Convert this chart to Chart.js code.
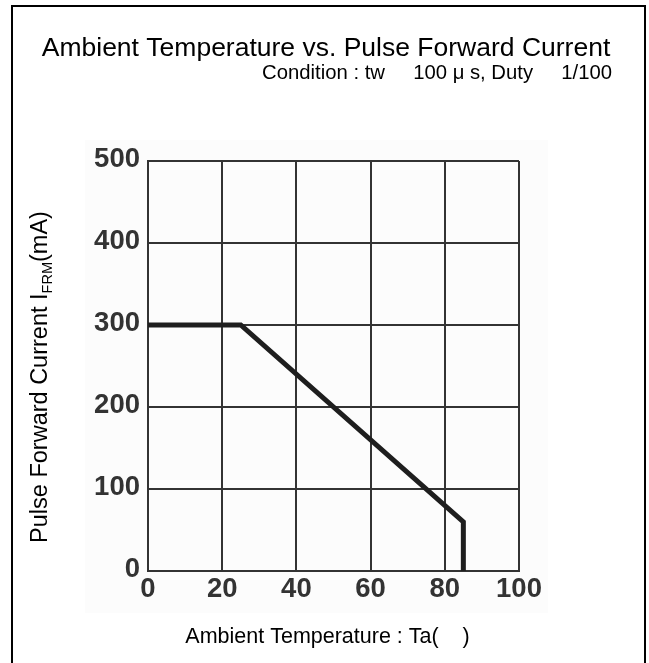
<!DOCTYPE html>
<html><head><meta charset="utf-8">
<script src="https://cdn.jsdelivr.net/npm/chart.js@4"></script>
<style>html,body{margin:0;padding:0;background:#fff}#wrap{width:649px;height:663px;position:relative}</style>
</head><body><div id="wrap"><canvas id="c" width="649" height="663"></canvas></div>
<script>
// ---- data ----
const temperatures = [0, 25, 85, 85];
const pulseCurrent = [300, 300, 60, 0];
const xTickValues = [0, 20, 40, 60, 80, 100];
const yTickValues = [0, 100, 200, 300, 400, 500];
const titleText = 'Ambient Temperature vs. Pulse Forward Current';
const subtitleText = 'Condition : tw     100 \u03bc s, Duty     1/100';
const xTitleText = 'Ambient Temperature : Ta(    )  ';
const yTitleMain = 'Pulse Forward Current I';
const yTitleSub = 'FRM';
const yTitleEnd = '(mA)';

const FONT = '"Liberation Sans", Arial, sans-serif';

const decor = {
  id: 'decor',
  beforeDraw(chart) {
    const ctx = chart.ctx;
    ctx.save();
    ctx.fillStyle = '#ffffff';
    ctx.fillRect(0, 0, chart.width, chart.height);
    ctx.fillStyle = '#fcfcfc';
    ctx.fillRect(85, 140, 463, 473);
    ctx.strokeStyle = '#000';
    ctx.lineWidth = 2;
    ctx.strokeRect(12, 6, 633, 700);
    ctx.restore();
  },
  afterDraw(chart) {
    const ctx = chart.ctx;
    ctx.save();
    ctx.fillStyle = '#000';
    ctx.textBaseline = 'alphabetic';
    ctx.font = '26.5px ' + FONT;
    ctx.textAlign = 'center';
    ctx.fillText(titleText, 326, 56);
    ctx.font = '20.3px ' + FONT;
    ctx.textAlign = 'right';
    ctx.fillText(subtitleText, 612, 79);
    // y axis title with subscript
    const mainFont = '23.5px ' + FONT, subFont = '14.5px ' + FONT;
    ctx.font = mainFont; const w1 = ctx.measureText(yTitleMain).width;
    const w3 = ctx.measureText(yTitleEnd).width;
    ctx.font = subFont; const w2 = ctx.measureText(yTitleSub).width;
    const total = w1 + w2 + w3;
    const cy = (chart.chartArea.top + chart.chartArea.bottom) / 2 + 11;
    ctx.translate(46.5, cy);
    ctx.rotate(-Math.PI / 2);
    ctx.textAlign = 'left';
    let x = -total / 2;
    ctx.font = mainFont; ctx.fillText(yTitleMain, x, 0); x += w1;
    ctx.font = subFont; ctx.fillText(yTitleSub, x, 5); x += w2;
    ctx.font = mainFont; ctx.fillText(yTitleEnd, x, 0);
    ctx.restore();
  }
};

new Chart(document.getElementById('c'), {
  type: 'line',
  data: {
    datasets: [{
      data: temperatures.map((t, i) => ({ x: t, y: pulseCurrent[i] })),
      borderColor: '#1e1e1e',
      borderWidth: 5,
      pointRadius: 0,
      tension: 0,
      fill: false,
      borderJoinStyle: 'miter'
    }]
  },
  options: {
    responsive: false,
    animation: false,
    devicePixelRatio: 1,
    layout: { padding: { left: 0, top: 161, right: 130, bottom: 0 } },
    plugins: { legend: { display: false }, tooltip: { enabled: false }, title: { display: false } },
    scales: {
      x: {
        type: 'linear', min: 0, max: 100,
        afterBuildTicks: s => { s.ticks = xTickValues.map(v => ({ value: v })); },
        afterFit: s => { s.height = 92; },
        grid: { color: '#333', lineWidth: 2, drawTicks: false },
        border: { display: true, color: '#333', width: 2 },
        ticks: { color: '#333', font: { family: FONT, size: 27.5, weight: 'bold' }, padding: 2, maxRotation: 0 },
        title: { display: true, text: xTitleText, color: '#000', font: { family: FONT, size: 21.5 }, padding: { top: 0, bottom: 13 } }
      },
      y: {
        type: 'linear', min: 0, max: 500,
        afterBuildTicks: s => { s.ticks = yTickValues.map(v => ({ value: v })); },
        afterFit: s => { s.width = 148; },
        grid: { color: '#333', lineWidth: 2, drawTicks: false },
        border: { display: true, color: '#333', width: 2 },
        ticks: { color: '#333', font: { family: FONT, size: 27.5, weight: 'bold' }, padding: 8, labelOffset: -2 }
      }
    }
  },
  plugins: [decor]
});
</script></body></html>
